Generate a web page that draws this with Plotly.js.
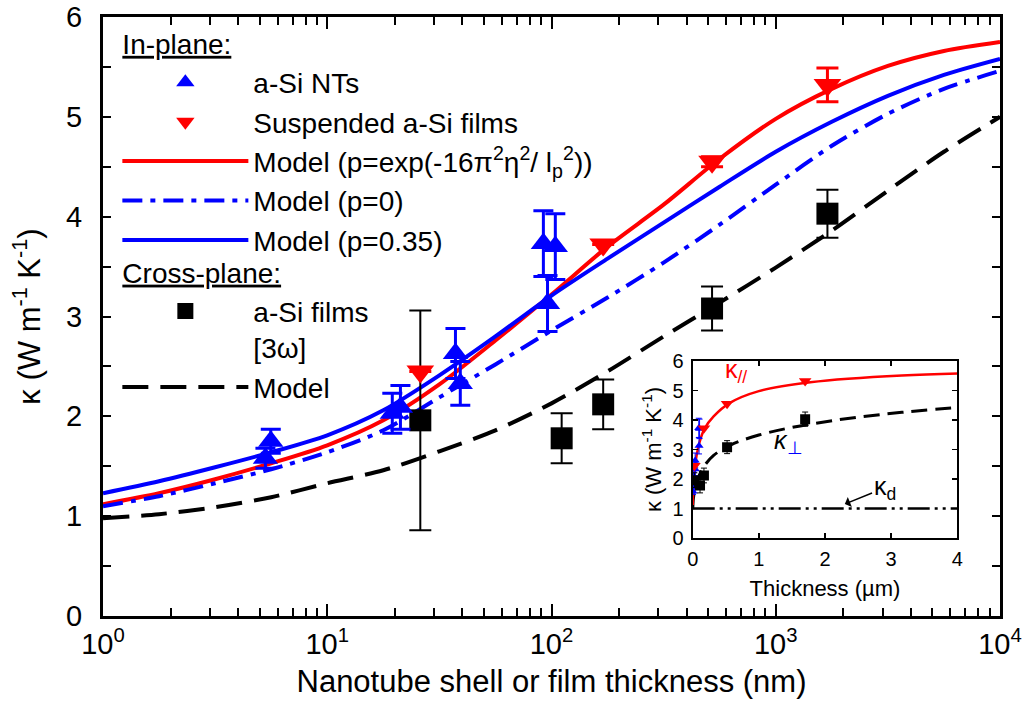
<!DOCTYPE html>
<html><head><meta charset="utf-8">
<script src="https://cdn.plot.ly/plotly-3.0.1.min.js"></script>
<style>html,body{margin:0;padding:0;background:#fff}#chart{width:1028px;height:727px}</style>
</head><body><div id="chart"></div>
<script>
// ---------------- DATA ----------------
// Model curves, read every quarter decade (thickness in nm)
const modelThickness = [1, 1.778, 3.162, 5.623, 10, 17.78, 31.62, 56.23, 100, 177.8, 316.2, 562.3, 1000, 1778, 3162, 5623, 10000];
const modelInPlaneSpec = [1.12, 1.23, 1.37, 1.53, 1.71, 1.96, 2.32, 2.76, 3.22, 3.70, 4.12, 4.58, 4.98, 5.28, 5.51, 5.66, 5.75];
const modelInPlaneP0   = [1.10, 1.20, 1.33, 1.47, 1.64, 1.86, 2.19, 2.52, 2.86, 3.19, 3.54, 3.92, 4.32, 4.71, 5.03, 5.28, 5.46];
const modelInPlaneP035 = [1.23, 1.35, 1.49, 1.64, 1.81, 2.06, 2.41, 2.80, 3.21, 3.58, 3.94, 4.30, 4.65, 4.95, 5.21, 5.42, 5.58];
const modelCrossPlane  = [0.98, 1.02, 1.09, 1.19, 1.33, 1.46, 1.65, 1.86, 2.13, 2.45, 2.80, 3.14, 3.49, 3.86, 4.26, 4.65, 5.00];

// In-plane: a-Si nanotubes
const ntThickness = [5.3, 5.6, 19.5, 21.2, 37.3, 39.2, 92, 96, 104];
const ntKappa     = [1.58, 1.75, 2.03, 2.09, 2.63, 2.33, 3.73, 3.13, 3.70];
const ntErr       = [0.10, 0.12, 0.20, 0.22, 0.25, 0.22, 0.33, 0.28, 0.33];

// In-plane: suspended a-Si films
const filmThickness = [26, 170, 520, 1700];
const filmKappa     = [2.45, 3.72, 4.55, 5.32];
const filmErr       = [0, 0, 0.05, 0.17];

// Cross-plane: a-Si films [3ω]
const crossThickness = [26, 111, 170, 520, 1700];
const crossKappa     = [1.96, 1.78, 2.12, 3.08, 4.03];
const crossErr       = [1.10, 0.25, 0.25, 0.22, 0.24];

// Diffuson contribution (inset)
const kappaDiffuson = 1.0;
const insetThickness = [0, 4]; // µm

// Tick labels
const xTickVals = [1, 10, 100, 1000, 10000];
const xTickText = ['10<sup>0</sup>', '10<sup>1</sup>', '10<sup>2</sup>', '10<sup>3</sup>', '10<sup>4</sup>'];

// ---------------- STYLE ----------------
const FONT = 'Liberation Sans, Arial, sans-serif';
const RED = '#ff0000', BLUE = '#0000ff', BLACK = '#000000';
const nm2um = a => a.map(v => v / 1000);

const minorVals = [];
for (let d = 1; d < 10000; d *= 10) for (let k = 2; k <= 9; k++) minorVals.push(k * d);

const inPlaneTitle = {text: '<u>In-plane:</u>', font: {size: 28, family: FONT, color: BLACK}};
const crossTitle = {text: '<u>Cross-plane:</u>', font: {size: 28, family: FONT, color: BLACK}};

const traces = [
  // model lines (drawn first)
  {x: modelThickness, y: modelInPlaneSpec, mode: 'lines', line: {color: RED, width: 4, shape: 'spline', smoothing: 0.8},
   name: 'Model (p=exp(-16π<sup>2</sup>η<sup>2</sup>/ l<sub>p</sub><sup>2</sup>))', legendgroup: 'in', legendgrouptitle: inPlaneTitle, legendrank: 3},
  {x: modelThickness, y: modelInPlaneP0, mode: 'lines', line: {color: BLUE, width: 4, dash: '20px,8px,5px,8px', shape: 'spline', smoothing: 0.8},
   name: 'Model (p=0)', legendgroup: 'in', legendgrouptitle: inPlaneTitle, legendrank: 4},
  {x: modelThickness, y: modelInPlaneP035, mode: 'lines', line: {color: BLUE, width: 4, shape: 'spline', smoothing: 0.8},
   name: 'Model (p=0.35)', legendgroup: 'in', legendgrouptitle: inPlaneTitle, legendrank: 5},
  {x: modelThickness, y: modelCrossPlane, mode: 'lines', line: {color: BLACK, width: 4, dash: '26px,12px', shape: 'spline', smoothing: 0.8},
   name: 'Model', legend: 'legend2', legendgroup: 'cross', legendgrouptitle: crossTitle, legendrank: 7},
  // data markers
  {x: crossThickness, y: crossKappa, mode: 'markers', marker: {symbol: 'square', size: 22, color: BLACK},
   error_y: {type: 'data', array: crossErr, color: BLACK, thickness: 2, width: 11},
   name: 'a-Si films<br>[3ω]', legend: 'legend2', legendgroup: 'cross', legendgrouptitle: crossTitle, legendrank: 6},
  {x: ntThickness, y: ntKappa, mode: 'markers', marker: {symbol: 'triangle-up', size: 22, color: BLUE},
   error_y: {type: 'data', array: ntErr, color: BLUE, thickness: 3, width: 10},
   name: 'a-Si NTs', legendgroup: 'in', legendgrouptitle: inPlaneTitle, legendrank: 1},
  {x: filmThickness, y: filmKappa, mode: 'markers', marker: {symbol: 'triangle-down', size: 24, color: RED},
   error_y: {type: 'data', array: filmErr, color: RED, thickness: 3, width: 11},
   name: 'Suspended a-Si films', legendgroup: 'in', legendgrouptitle: inPlaneTitle, legendrank: 2},

  // ---- inset ----
  {x: insetThickness, y: insetThickness.map(() => kappaDiffuson), xaxis: 'x2', yaxis: 'y2', mode: 'lines',
   line: {color: BLACK, width: 2.5, dash: '22px,5px,3px,5px,3px,5px'}, showlegend: false},
  {x: nm2um(modelThickness), y: modelCrossPlane, xaxis: 'x2', yaxis: 'y2', mode: 'lines',
   line: {color: BLACK, width: 3, dash: '16px,8px', shape: 'spline'}, showlegend: false},
  {x: nm2um(modelThickness), y: modelInPlaneSpec, xaxis: 'x2', yaxis: 'y2', mode: 'lines',
   line: {color: RED, width: 2.5, shape: 'spline'}, showlegend: false},
  {x: nm2um(ntThickness), y: ntKappa, xaxis: 'x2', yaxis: 'y2', mode: 'markers',
   marker: {symbol: 'triangle-up', size: 8, color: BLUE},
   error_y: {type: 'data', array: ntErr, color: BLUE, thickness: 1, width: 3}, showlegend: false},
  {x: nm2um(crossThickness), y: crossKappa, xaxis: 'x2', yaxis: 'y2', mode: 'markers',
   marker: {symbol: 'square', size: 10, color: BLACK},
   error_y: {type: 'data', array: crossErr.map(e => Math.min(e, 0.25)), color: BLACK, thickness: 1, width: 3}, showlegend: false},
  {x: nm2um(filmThickness), y: filmKappa, xaxis: 'x2', yaxis: 'y2', mode: 'markers',
   marker: {symbol: 'triangle-down', size: 11, color: RED}, showlegend: false}
];

const legendCommon = {xanchor: 'left', yanchor: 'top', bgcolor: 'rgba(0,0,0,0)',
  font: {size: 28, family: FONT, color: BLACK}, itemwidth: 126, tracegroupgap: 0,
  traceorder: 'grouped', valign: 'top'};

const layout = {
  width: 1028, height: 727,
  margin: {l: 103, r: 28, t: 17, b: 111},
  paper_bgcolor: '#fff', plot_bgcolor: '#fff',
  font: {family: FONT, size: 28, color: BLACK},
  showlegend: true,
  legend: Object.assign({x: 0.016, y: 0.998}, legendCommon),
  legend2: Object.assign({x: 0.016, y: 0.616}, legendCommon),
  xaxis: {type: 'log', range: [0, 4], domain: [0, 1], anchor: 'y',
          tickmode: 'array', tickvals: xTickVals, ticktext: xTickText,
          ticks: 'inside', ticklen: 12, tickwidth: 2, tickcolor: BLACK,
          minor: {tickmode: 'array', tickvals: minorVals, ticks: 'inside', ticklen: 8, tickwidth: 2, tickcolor: BLACK},
          showline: true, linewidth: 3, linecolor: BLACK, mirror: 'allticks', showgrid: false, zeroline: false,
          tickfont: {size: 29, family: FONT}, ticklabelstandoff: 0,
          title: {text: 'Nanotube shell or film thickness (nm)', font: {size: 31, family: FONT}, standoff: 12}},
  yaxis: {range: [0, 6], domain: [0, 1], anchor: 'x', tickmode: 'linear', tick0: 0, dtick: 1,
          ticks: 'inside', ticklen: 8, tickwidth: 2, tickcolor: BLACK,
          minor: {dtick: 0.5, ticks: 'inside', ticklen: 8, tickwidth: 2, tickcolor: BLACK},
          showline: true, linewidth: 3, linecolor: BLACK, mirror: 'allticks', showgrid: false, zeroline: false,
          tickfont: {size: 29, family: FONT}, ticklabelstandoff: 12,
          title: {text: 'κ (W m<sup>-1</sup> K<sup>-1</sup>)', font: {size: 31, family: FONT}, standoff: 17}},
  xaxis2: {range: [0, 4], domain: [0.6574, 0.9524], anchor: 'y2', tickmode: 'linear', tick0: 0, dtick: 1,
           ticks: 'inside', ticklen: 5, tickwidth: 1.5, tickcolor: BLACK,
           showline: true, linewidth: 2, linecolor: BLACK, mirror: 'allticks', showgrid: false, zeroline: false,
           tickfont: {size: 20, family: FONT}, ticklabelstandoff: 2,
           title: {text: 'Thickness (µm)', font: {size: 22, family: FONT}, standoff: 12}},
  yaxis2: {range: [0, 6], domain: [0.1302, 0.4257], anchor: 'x2', tickmode: 'linear', tick0: 0, dtick: 1,
           ticks: 'inside', ticklen: 5, tickwidth: 1.5, tickcolor: BLACK,
           showline: true, linewidth: 2, linecolor: BLACK, mirror: 'allticks', showgrid: false, zeroline: false,
           tickfont: {size: 20, family: FONT}, ticklabelstandoff: 3,
           title: {text: 'κ (W m<sup>-1</sup> K<sup>-1</sup>)', font: {size: 22, family: FONT}, standoff: 5}},
  annotations: [
    {xref: 'x2', yref: 'y2', x: 0.65, y: 5.65, text: 'κ<sub>//</sub>', showarrow: false,
     font: {size: 25, color: RED, family: FONT}},
    {xref: 'x2', yref: 'y2', x: 1.45, y: 3.25, text: '<i>κ</i><sub><span style="color:#0000ff">⊥</span></sub>', showarrow: false,
     font: {size: 25, color: BLACK, family: FONT}},
    {xref: 'x2', yref: 'y2', x: 2.3, y: 1.15, axref: 'x2', ayref: 'y2', ax: 2.9, ay: 1.7,
     text: 'κ<sub>d</sub>', showarrow: true, arrowhead: 1, arrowsize: 1.2, arrowwidth: 1.5, arrowcolor: BLACK,
     font: {size: 25, color: BLACK, family: FONT}}
  ]
};

Plotly.newPlot('chart', traces, layout, {displayModeBar: false, staticPlot: true});
</script>
</body></html>
